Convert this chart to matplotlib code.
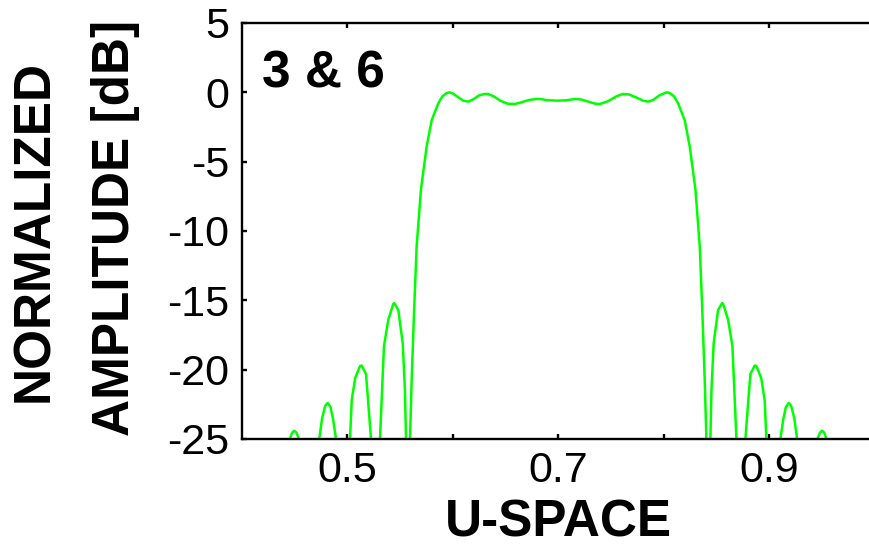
import matplotlib
matplotlib.use("Agg")
import matplotlib.pyplot as plt

# ---- data ----
u_space = [
    0.4300, 0.4455, 0.4475, 0.4496, 0.4517, 0.4541, 0.4636,
    0.4733, 0.4760, 0.4790, 0.4813, 0.4840, 0.4865, 0.4892, 0.4958,
    0.5025, 0.5041, 0.5074, 0.5119, 0.5135, 0.5176, 0.5189, 0.5224, 0.5267,
    0.5309, 0.5347, 0.5388, 0.5435, 0.5445, 0.5483, 0.5525, 0.5546, 0.5556, 0.5575,
    0.5594, 0.5610, 0.5632, 0.5657, 0.5698, 0.5752, 0.5800, 0.5862, 0.5900, 0.5942,
    0.5970, 0.6000, 0.6050, 0.6100, 0.6147, 0.6195, 0.6250, 0.6300, 0.6337, 0.6390,
    0.6450, 0.6520, 0.6590, 0.6650, 0.6720, 0.6790, 0.6827, 0.6900, 0.6993, 0.7080,
    0.7159, 0.7220, 0.7290, 0.7350, 0.7397, 0.7470, 0.7550, 0.7612, 0.7670, 0.7735,
    0.7805, 0.7855, 0.7900, 0.7960, 0.8030, 0.8058, 0.8100, 0.8138, 0.8200, 0.8248,
    0.8302, 0.8343, 0.8368, 0.8390, 0.8406, 0.8425,
    0.8444, 0.8454, 0.8475, 0.8517, 0.8555, 0.8565, 0.8612, 0.8653, 0.8691, 0.8733,
    0.8776, 0.8811, 0.8824, 0.8865, 0.8881, 0.8926, 0.8959, 0.8975, 0.9042,
    0.9108, 0.9135, 0.9160, 0.9187, 0.9210, 0.9240, 0.9267, 0.9364,
    0.9459, 0.9483, 0.9504, 0.9525, 0.9545, 0.9700,
]
amplitude_db = [
    -50, -25, -24.55, -24.4, -24.55, -25, -50,
    -25, -23.5, -22.6, -22.4, -22.7, -23.6, -25, -50,
    -25, -22.2, -20.6, -19.75, -19.7, -20.3, -21.5, -25, -50,
    -25, -18.3, -16.4, -15.26, -15.2, -15.7, -18.1, -21.5, -25, -50,
    -25, -20.7, -15.9, -11.1, -7.0, -3.9, -2.0, -0.8, -0.3, -0.05,
    0.0, -0.08, -0.35, -0.6, -0.67, -0.5, -0.22, -0.12, -0.12, -0.3,
    -0.6, -0.82, -0.84, -0.72, -0.56, -0.48, -0.48, -0.57, -0.6, -0.57,
    -0.48, -0.52, -0.68, -0.82, -0.84, -0.65, -0.3, -0.12, -0.15, -0.35,
    -0.6, -0.67, -0.55, -0.22, 0.0, -0.05, -0.3, -0.8, -2.0, -3.9,
    -7.0, -11.1, -15.9, -20.7, -25, -50,
    -25, -21.5, -18.1, -15.7, -15.2, -15.26, -16.4, -18.3, -25, -50,
    -25, -21.5, -20.3, -19.7, -19.75, -20.6, -22.2, -25, -50,
    -25, -23.6, -22.7, -22.4, -22.6, -23.5, -25, -50,
    -25, -24.55, -24.4, -24.55, -25, -50,
]
x_ticks = [0.5, 0.6, 0.7, 0.8, 0.9]
x_ticklabels = ["0.5", "", "0.7", "", "0.9"]
y_ticks = [5, 0, -5, -10, -15, -20, -25]
y_ticklabels = ["5", "0", "-5", "-10", "-15", "-20", "-25"]

plt.rcParams["font.family"] = ["Liberation Sans", "DejaVu Sans"]

W, H = 869, 550
fig = plt.figure(figsize=(W / 100, H / 100), dpi=100)
ax = fig.add_axes([242 / W, (H - 439) / H, (874.4 - 242) / W, (439 - 23) / H])

ax.plot(u_space, amplitude_db, color="#00ff00", lw=1.8, solid_joinstyle="round")

ax.set_xlim(0.4, 1.0)
ax.set_ylim(-25, 5)
ax.set_xticks(x_ticks)
ax.set_xticklabels(x_ticklabels)
ax.set_yticks(y_ticks)
ax.set_yticklabels(y_ticklabels)
ax.tick_params(direction="in", length=3.6, width=1.7, top=True, right=True,
               labelsize=31, pad=9)
for s in ax.spines.values():
    s.set_linewidth(1.7)

ax.set_xlabel("U-SPACE", fontsize=37, fontweight="bold", labelpad=5)

fig.text(35 / W, 1 - 231 / H, "NORMALIZED", rotation=90, ha="center", va="center",
         fontsize=37, fontweight="bold")
fig.text(116 / W, 1 - 228 / H, "AMPLITUDE [dB]", rotation=90, ha="center", va="center",
         fontsize=37, fontweight="bold")
fig.text(262 / W, 1 - 87 / H, "3 & 6", ha="left", va="baseline",
         fontsize=37, fontweight="bold")

fig.savefig("out.png", dpi=100)
